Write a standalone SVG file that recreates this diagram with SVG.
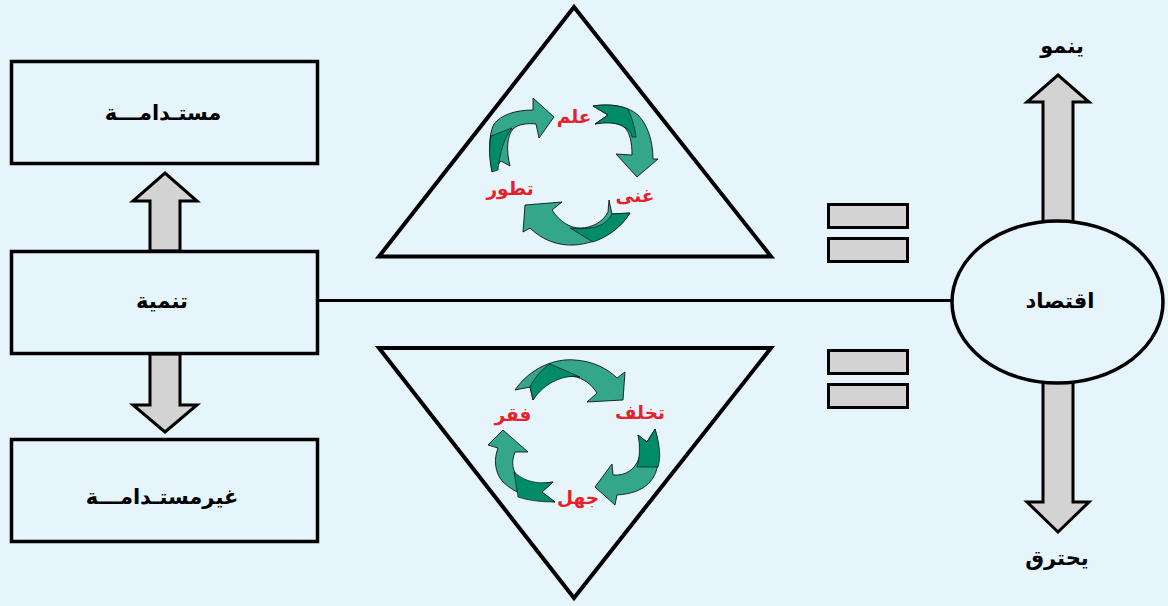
<svg xmlns="http://www.w3.org/2000/svg" width="1168" height="606" viewBox="0 0 1168 606">
<style>
.bg{fill:#E6F4FC}
.box{fill:none;stroke:#000;stroke-width:3.5}
.gray{fill:#D3D3D3;stroke:#000;stroke-width:3;stroke-linejoin:miter}
.eq{fill:#D3D3D3;stroke:#000;stroke-width:3}
.tri{fill:none;stroke:#000;stroke-width:4;stroke-linejoin:miter}
.lt{fill:#33A68C;stroke:#000;stroke-width:0.8;stroke-linejoin:miter}
.dk{fill:#008C68;stroke:#000;stroke-width:0.6}
.t{font-family:"DejaVu Sans",sans-serif;font-weight:bold;font-size:21px;fill:#000;text-anchor:middle}
.r{font-family:"DejaVu Sans",sans-serif;font-weight:bold;font-size:18.5px;fill:#E8202A;text-anchor:middle}
</style>
<rect class="bg" x="0" y="0" width="1168" height="606"/>

<g id="connectors">
<line x1="319" y1="300.5" x2="952" y2="300.5" stroke="#000" stroke-width="3"/>
<polygon class="gray" points="150,251 150,201 133,201 165,173 197,201 180,201 180,251"/>
<polygon class="gray" points="150,354 180,354 180,405 197,405 165,432 133,405 150,405"/>
<polygon class="gray" points="1043,222 1043,102 1027,102 1058,75 1089,102 1073,102 1073,222"/>
<polygon class="gray" points="1043,382 1073,382 1073,502 1089,502 1058,532 1027,502 1043,502"/>
</g>

<g id="node-mustadama">
<rect class="box" x="11.5" y="61.5" width="306" height="102"/>
<text class="t" x="163" y="120">مستـدامـــة</text>
</g>

<g id="node-tanmia">
<rect class="box" x="11.5" y="251.5" width="306" height="102"/>
<text class="t" x="162" y="308">تنمية</text>
</g>

<g id="node-ghair-mustadama">
<rect class="box" x="11.5" y="439.5" width="306" height="102"/>
<text class="t" x="162" y="504">غيرمستـدامـــة</text>
</g>

<g id="node-upper-triangle">
<polygon class="tri" points="574,7 379,256.5 771,256.5"/>
<path class="lt" d="M492,172 L501,161 L510,166 C506,150 507,136 513,129 C518,124 528,123 536,124 L539,138 L554,117 L533,98 L533,110 C515,110 501,115 494,124 C488,135 489,155 492,172 Z"/>
<path class="dk" d="M491,136 L512,128 C504,138 500,152 498,170 L492,172 C489,158 489,146 491,136 Z"/>
<path class="lt" d="M593,106 C610,103 628,106 638,115 C647,124 653,140 653,159 L658,159 L637,177 L616,154 L632,155 C632,143 630,132 624,127 C617,122 605,122 595,124 L608,115 Z"/>
<path class="dk" d="M593,106 C606,104 618,105 628,109 C632,118 635,128 636,137 L632,137 C631,132 629,129 624,127 C617,122 605,122 595,124 L608,115 Z"/>
<path class="lt" d="M630,213 C618,232 598,243 575,245 C558,246 542,240 530,228 L523,232 L525,205 L562,202 L552,210 C560,222 570,228 580,228 C592,228 603,222 608,212 L609,200 L612,214 Z"/>
<path class="dk" d="M593,242 C610,236 622,226 630,213 L612,214 C608,222 600,227 590,228 C582,229 575,229 570,228 Z"/>
<text class="r" x="574" y="123">علم</text>
<text class="r" x="635" y="202">غنى</text>
<text class="r" x="510" y="195">تطور</text>
</g>

<g id="node-lower-triangle">
<polygon class="tri" points="379,348 771,348 574,598"/>
<path class="lt" d="M515,390 C530,368 555,358 575,360 C593,361 608,369 617,378 L625,372 L623,400 L587,402 L597,393 C590,382 580,376 568,376 C555,376 542,384 533,400 L530,387 Z"/>
<path class="dk" d="M550,364 L580,377 C565,374 545,382 533,400 L530,387 C535,377 542,369 550,364 Z"/>
<path class="lt" d="M655,429 C660,445 661,465 653,478 C645,490 632,494 617,495 L615,505 L595,487 L612,464 L613,475 C625,476 635,470 639,458 C641,450 640,442 638,435 L647,442 Z"/>
<path class="dk" d="M655,429 C660,445 661,458 658,467 L637,467 C640,458 640,445 638,435 L647,442 Z"/>
<path class="lt" d="M555,502 C535,500 515,494 503,482 C494,472 494,458 498,448 L488,445 L503,430 L528,452 L515,452 C511,462 512,472 520,479 C530,485 542,484 553,482 L542,492 Z"/>
<path class="dk" d="M518,497 C530,501 543,502 555,502 L542,492 L553,482 C540,484 526,483 514,472 Z"/>
<text class="r" x="640" y="419">تخلف</text>
<text class="r" x="513" y="421">فقر</text>
<text class="r" x="578" y="504">جهل</text>
</g>

<g id="node-equals-top">
<rect class="eq" x="828.5" y="204.5" width="79" height="23"/>
<rect class="eq" x="828.5" y="238.5" width="79" height="23"/>
</g>
<g id="node-equals-bottom">
<rect class="eq" x="828.5" y="350.5" width="79" height="23"/>
<rect class="eq" x="828.5" y="384.5" width="79" height="23"/>
</g>

<g id="node-iqtisad">
<ellipse cx="1057.5" cy="302" rx="105.5" ry="81" fill="#E6F4FC" stroke="#000" stroke-width="3.5"/>
<text class="t" x="1060" y="308">اقتصاد</text>
</g>

<g id="node-yanmu">
<text class="t" x="1062" y="53">ينمو</text>
</g>
<g id="node-yahtariq">
<text class="t" x="1057" y="565">يحترق</text>
</g>
</svg>
